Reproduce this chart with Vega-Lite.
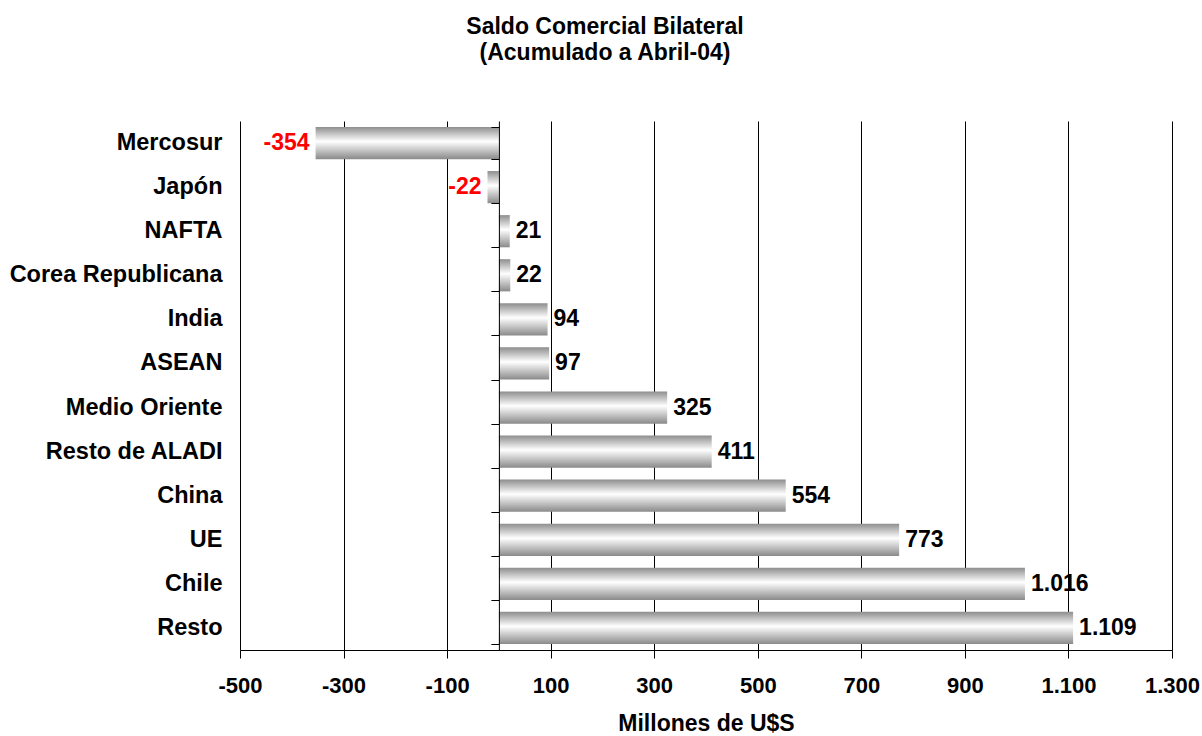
{
  "$schema": "https://vega.github.io/schema/vega-lite/v6.json",
  "width": 932,
  "height": 529,
  "autosize": {"type": "none"},
  "padding": {"left": 240, "top": 121, "right": 30, "bottom": 86},
  "background": "white",
  "title": {
    "text": ["Saldo Comercial Bilateral", "(Acumulado a Abril-04)"],
    "font": "Liberation Sans",
    "fontSize": 23,
    "fontWeight": "bold",
    "color": "black",
    "anchor": "middle",
    "dx": -101,
    "offset": 56,
    "lineHeight": 26
  },
  "data": {
    "values": [
      {"region": "Mercosur", "value": -354},
      {"region": "Japón", "value": -22},
      {"region": "NAFTA", "value": 21},
      {"region": "Corea Republicana", "value": 22},
      {"region": "India", "value": 94},
      {"region": "ASEAN", "value": 97},
      {"region": "Medio Oriente", "value": 325},
      {"region": "Resto de ALADI", "value": 411},
      {"region": "China", "value": 554},
      {"region": "UE", "value": 773},
      {"region": "Chile", "value": 1016},
      {"region": "Resto", "value": 1109}
    ]
  },
  "layer": [
    {
      "mark": {
        "type": "bar",
        "color": {
          "gradient": "linear",
          "x1": 0, "y1": 0, "x2": 0, "y2": 1,
          "stops": [
            {"offset": 0, "color": "#8e8e8e"},
            {"offset": 0.45, "color": "#ffffff"},
            {"offset": 1, "color": "#8a8a8a"}
          ]
        }
      },
      "encoding": {
        "y": {
          "field": "region",
          "type": "nominal",
          "sort": null,
          "scale": {"paddingInner": 0.27, "paddingOuter": 0.135},
          "axis": {
            "orient": "left",
            "title": null,
            "domain": false,
            "ticks": false,
            "labelPadding": 18,
            "labelFont": "Liberation Sans",
            "labelFontSize": 23.5,
            "labelFontWeight": "bold",
            "labelColor": "black",
            "labelLimit": 0
          }
        },
        "x": {
          "field": "value",
          "type": "quantitative",
          "scale": {"domain": [-500, 1300], "nice": false, "zero": false},
          "axis": {
            "orient": "bottom",
            "values": [-500, -300, -100, 100, 300, 500, 700, 900, 1100, 1300],
            "format": ",d",
            "grid": true,
            "gridColor": "black",
            "gridOpacity": 1,
            "gridWidth": 1,
            "domainColor": "black",
            "tickColor": "black",
            "tickSize": 8,
            "labelPadding": 17,
            "labelFont": "Liberation Sans",
            "labelFontSize": 22,
            "labelFontWeight": "bold",
            "labelColor": "black",
            "labelFlush": false,
            "labelOverlap": false,
            "title": "Millones de U$S",
            "titleFont": "Liberation Sans",
            "titleFontSize": 23,
            "titleFontWeight": "bold",
            "titleColor": "black",
            "titlePadding": 16,
            "zindex": 0
          }
        }
      }
    },
    {
      "transform": [{"filter": "datum.value >= 0"}],
      "mark": {
        "type": "text",
        "align": "left",
        "baseline": "middle",
        "dx": 6,
        "font": "Liberation Sans",
        "fontSize": 23,
        "fontWeight": "bold",
        "color": "black"
      },
      "encoding": {
        "y": {
          "field": "region",
          "type": "nominal",
          "sort": null,
          "axis": {
            "orient": "left",
            "offset": -258.9,
            "title": null,
            "labels": false,
            "domain": true,
            "domainColor": "black",
            "ticks": true,
            "tickColor": "black",
            "tickSize": 8,
            "tickBand": "extent",
            "grid": false,
            "zindex": 1
          }
        },
        "x": {"field": "value", "type": "quantitative"},
        "text": {"field": "value", "type": "quantitative", "format": ",d"}
      }
    },
    {
      "transform": [{"filter": "datum.value < 0"}],
      "mark": {
        "type": "text",
        "align": "right",
        "baseline": "middle",
        "dx": -6,
        "font": "Liberation Sans",
        "fontSize": 23,
        "fontWeight": "bold",
        "color": "#ff0000"
      },
      "encoding": {
        "y": {"field": "region", "type": "nominal", "sort": null, "axis": null},
        "x": {"field": "value", "type": "quantitative"},
        "text": {"field": "value", "type": "quantitative", "format": ",d"}
      }
    }
  ],
  "resolve": {"axis": {"y": "independent"}},
  "config": {
    "view": {"stroke": null},
    "locale": {
      "number": {
        "decimal": ",",
        "thousands": ".",
        "grouping": [3],
        "currency": ["$", ""],
        "minus": "-"
      }
    }
  }
}
